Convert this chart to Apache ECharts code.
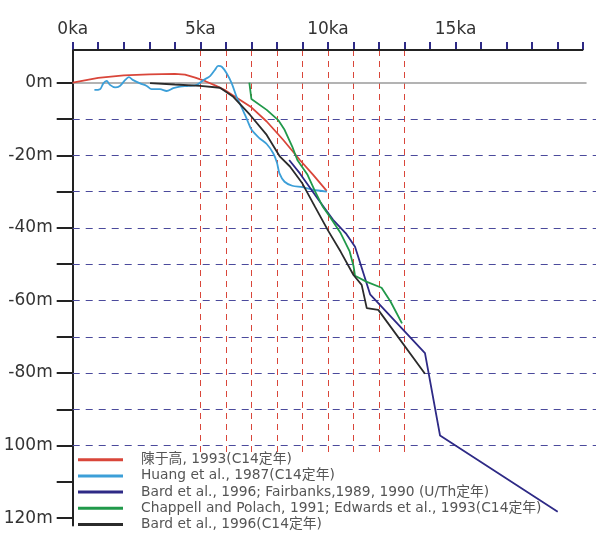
<!DOCTYPE html>
<html>
<head>
<meta charset="utf-8">
<script src="https://cdn.jsdelivr.net/npm/echarts@6/dist/echarts.min.js"></script>
<style>
  html, body { margin: 0; padding: 0; background: #fff; }
  #chart { width: 596px; height: 533px; }
</style>
</head>
<body>
<div id="chart"></div>
<script>
// x: age in ka, y: sea level in m
const xTickValues = [0, 1, 2, 3, 4, 5, 6, 7, 8, 9, 10, 11, 12, 13, 14, 15, 16, 17, 18, 19, 20]
const xLabelValues = [0, 5, 10, 15]
const yTickValues = [0, -10, -20, -30, -40, -50, -60, -70, -80, -90, -100, -110, -120]
const yLabelValues = [0, -20, -40, -60, -80, -100, -120]
const yLabelTexts = ['0m', '-20m', '-40m', '-60m', '-80m', '100m', '120m']
const ageLines = [5, 6, 7, 8, 9, 10, 11, 12, 13]
const depthLines = [-10, -20, -30, -40, -50, -60, -70, -80, -90, -100]

const seriesNames = [
  '陳于高, 1993(C14定年)',
  'Huang et al., 1987(C14定年)',
  'Bard et al., 1996; Fairbanks,1989, 1990 (U/Th定年)',
  'Chappell and Polach, 1991; Edwards et al., 1993(C14定年)',
  'Bard et al., 1996(C14定年)',
]
const colors = ['#d9463a', '#3c9fd8', '#2e2a86', '#21994a', '#2b2b2b']

const chen = [[0, 0], [1, 1.3], [2, 2.0], [3, 2.3], [4, 2.4], [4.4, 2.2], [4.8, 1.4], [5.2, 0.4],
  [5.6, -0.8], [6.0, -2.2], [6.5, -4.5], [7, -6.8], [7.6, -10.7], [8.25, -15.8], [8.9, -21.3],
  [9.42, -25.4], [9.95, -29.8]]
const huang = [[0.85, -2.0], [1.07, -1.8], [1.2, -0.2], [1.33, 0.5], [1.46, -0.6], [1.66, -1.3],
  [1.85, -0.9], [2.05, 0.7], [2.2, 1.5], [2.37, 0.7], [2.64, -0.2], [2.9, -0.9], [3.09, -1.8],
  [3.42, -1.8], [3.68, -2.3], [3.94, -1.5], [4.2, -1.1], [4.53, -0.9], [4.86, -0.6], [5.12, 0.7],
  [5.38, 1.8], [5.57, 3.5], [5.7, 4.6], [5.84, 4.4], [6.03, 2.6], [6.23, -0.2], [6.42, -3.9],
  [6.6, -6.5], [6.85, -10.5], [7.01, -13.0], [7.3, -15.2], [7.6, -16.9], [7.86, -19.5],
  [8.0, -22], [8.1, -25], [8.3, -27.3], [8.6, -28.4], [9.0, -28.8], [9.4, -29.5], [9.95, -30.0]]
const bardUTh = [[8.48, -21.3], [8.9, -25], [9.6, -32], [10.2, -37.8], [10.7, -41.5],
  [11.06, -45.2], [11.65, -58.3], [13.8, -74.5], [14.39, -97.2], [19.0, -118.2]]
const chappell = [[6.92, 0], [7.0, -4.5], [7.6, -7.5], [8.05, -10.3], [8.3, -13], [8.6, -17.6],
  [8.8, -21.3], [9.2, -25.4], [9.5, -30], [9.8, -34.2], [10.1, -37.2], [10.5, -41.5],
  [10.85, -46.5], [11.0, -50.5], [11.06, -53.2], [11.5, -54.8], [12.1, -56.5], [12.45, -60.3],
  [12.9, -66.3]]
const bardC14 = [[3.03, -0.1], [4, -0.5], [5.0, -0.9], [5.77, -1.4], [6.29, -3.9], [6.95, -8.9],
  [7.6, -14.4], [8.12, -20.4], [8.51, -23.1], [9.0, -27.8], [9.5, -34.3], [10.0, -40.7],
  [10.5, -46.6], [11.0, -53.0], [11.32, -55.7], [11.52, -62.1], [11.97, -62.6], [13.8, -80.2]]

const seriesData = [chen, huang, bardUTh, chappell, bardC14]

const font = 'DejaVu Sans, "Noto Sans CJK SC", sans-serif'
const chart = echarts.init(document.getElementById('chart'))

const lineSeries = seriesData.map((data, i) => ({
  name: seriesNames[i],
  type: 'line',
  data: data,
  symbol: 'none',
  smooth: i === 1 ? 0.3 : false,
  lineStyle: { color: colors[i], width: 1.8 },
  itemStyle: { color: colors[i] },
  z: 5,
}))

chart.setOption({
  animation: false,
  textStyle: { fontFamily: font },
  grid: { left: 72.7, right: 0, top: 50, bottom: 7.5 },
  xAxis: {
    type: 'value',
    position: 'top',
    min: 0,
    max: 20.5,
    axisLine: { show: false, onZero: false },
    axisTick: { show: true, customValues: xTickValues, length: 8, lineStyle: { color: '#2e2a86', width: 2 } },
    axisLabel: {
      customValues: xLabelValues,
      formatter: v => v + 'ka',
      fontSize: 17,
      color: '#333',
      margin: 12,
      fontFamily: font,
    },
    splitLine: { show: false },
  },
  yAxis: {
    type: 'value',
    min: -122,
    max: 9,
    axisLine: { show: true, onZero: false, lineStyle: { color: '#222', width: 2 } },
    axisTick: { show: true, customValues: yTickValues, length: 16, lineStyle: { color: '#222', width: 2 } },
    axisLabel: {
      customValues: yLabelValues,
      formatter: v => yLabelTexts[yLabelValues.indexOf(v)],
      fontSize: 17,
      color: '#333',
      margin: 20,
      fontFamily: font,
    },
    splitLine: { show: false },
  },
  legend: {
    orient: 'vertical',
    left: 78,
    top: 452.5,
    height: 80,
    padding: 0,
    data: seriesNames,
    icon: 'rect',
    itemWidth: 45,
    itemHeight: 3,
    itemGap: 1.8,
    textStyle: { fontSize: 13.8, lineHeight: 14.4, color: '#555', fontFamily: font, padding: [0, 0, 0, 13] },
  },
  series: [
    {
      name: 'grid',
      type: 'line',
      data: [],
      clip: false,
      silent: true,
      z: 1,
      markLine: {
        silent: true,
        symbol: 'none',
        label: { show: false },
        animation: false,
        data: [
          ...ageLines.map(x => [
            { coord: [x, 9], lineStyle: { color: '#d9463a', type: [6, 5], width: 1 } },
            { coord: [x, -102.6] },
          ]),
          ...depthLines.map(y => [
            { coord: [0, y], lineStyle: { color: '#4b4a9c', type: [7, 6], width: 1.2 } },
            { coord: [20.5, y] },
          ]),
          [
            { coord: [0, 0], lineStyle: { color: '#9a9a9a', type: 'solid', width: 1.5 } },
            { coord: [20.13, 0] },
          ],
          // top axis line
          [
            { coord: [0, 9], lineStyle: { color: '#222', type: 'solid', width: 2 } },
            { coord: [20, 9] },
          ],
        ],
      },
    },
    ...lineSeries,
  ],
})
</script>
</body>
</html>
